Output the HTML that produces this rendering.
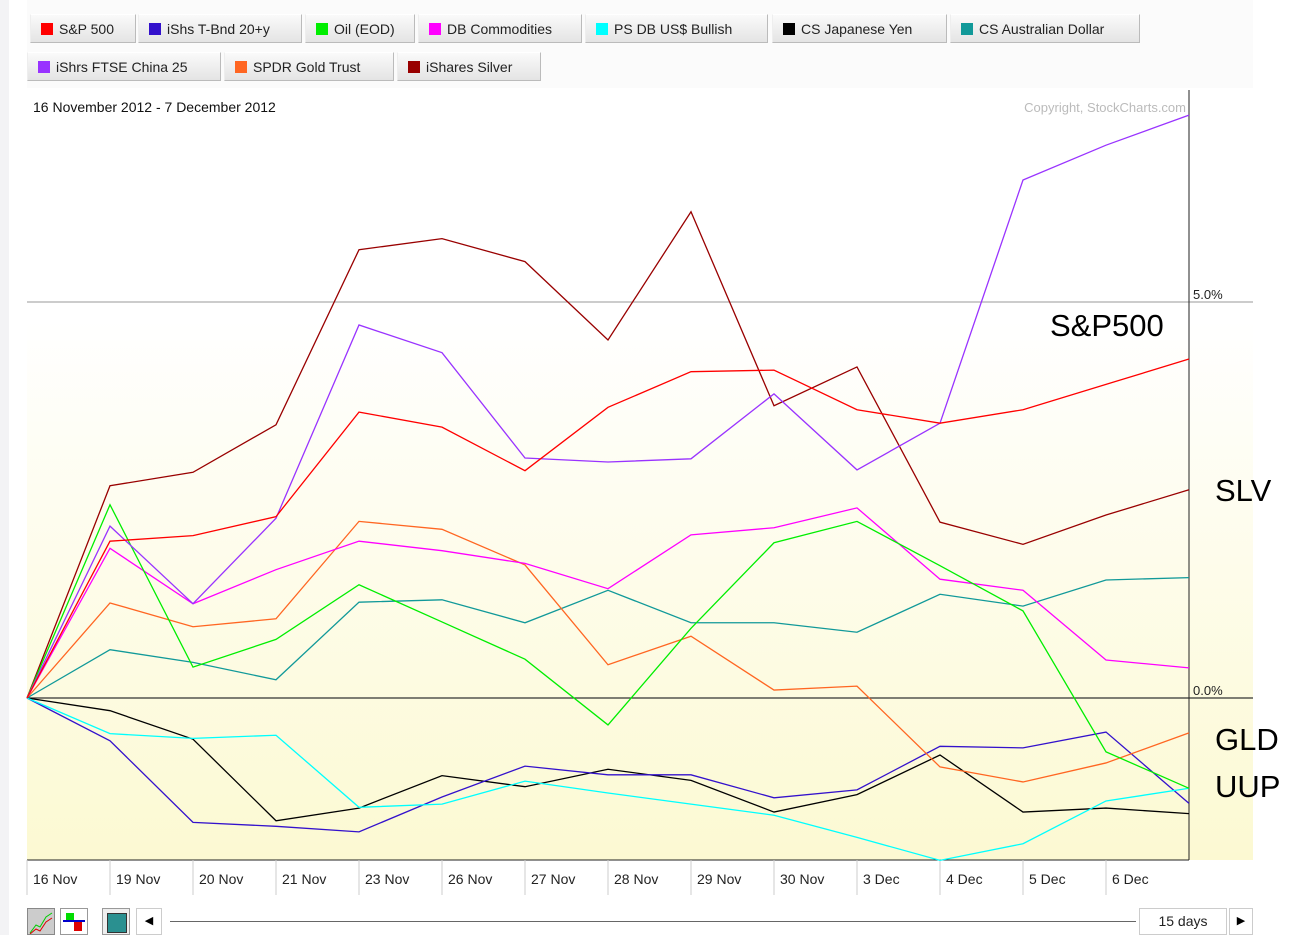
<!DOCTYPE html>
<html><head><meta charset="utf-8"><style>
body{margin:0;width:1307px;height:935px;overflow:hidden;background:#fff;font-family:"Liberation Sans",sans-serif;position:relative}
.lg{position:absolute;height:29px;background:linear-gradient(#fafafa,#e4e4e4);border:1px solid #bbb;border-top-color:#fff;border-left-color:#eee;font-size:14px;line-height:29px;padding:0 6px 0 28px;box-sizing:border-box;color:#222;white-space:nowrap;overflow:hidden}
.lg i{position:absolute;left:10px;top:8px;width:12px;height:12px}
.big{position:absolute;font-size:31px;color:#000}
</style></head><body>
<div style="position:absolute;left:0;top:0;width:9px;height:935px;background:#f3f3f5"></div>
<div style="position:absolute;left:27px;top:0;width:1226px;height:88px;background:#fbfbfb"></div>
<div id="legend"></div>
<svg id="chart" width="1307" height="935" style="position:absolute;left:0;top:0">
<defs><linearGradient id="bg" x1="0" y1="0" x2="0" y2="1"><stop offset="0" stop-color="#ffffff"/><stop offset="0.3" stop-color="#ffffff"/><stop offset="1" stop-color="#fcf9d2"/></linearGradient></defs>
</svg>
<div class="big" style="left:1050px;top:308px">S&amp;P500</div>
<div class="big" style="left:1215px;top:473px">SLV</div>
<div class="big" style="left:1215px;top:722px">GLD</div>
<div class="big" style="left:1215px;top:769px">UUP</div>
<div style="position:absolute;left:27px;top:905px;width:1226px;height:30px">
 <div style="position:absolute;left:0;top:3px;width:28px;height:27px;background:#ccc;border:1px solid #888;box-sizing:border-box"><svg width="26" height="25"><polyline points="2,24 8,16 12,18 18,8 24,4" fill="none" stroke="#0c0"/><polyline points="2,25 8,20 12,22 18,13 24,9" fill="none" stroke="#d00"/></svg></div>
 <div style="position:absolute;left:33px;top:3px;width:28px;height:27px;background:#fff;border:1px solid #999;box-sizing:border-box"><div style="position:absolute;left:5px;top:4px;width:8px;height:8px;background:#0d0"></div><div style="position:absolute;left:2px;top:11px;width:22px;height:2px;background:#00c"></div><div style="position:absolute;left:13px;top:13px;width:8px;height:9px;background:#d00"></div></div>
 <div style="position:absolute;left:75px;top:3px;width:28px;height:27px;background:#eee;border:1px solid #999;box-sizing:border-box"><div style="position:absolute;left:4px;top:4px;width:18px;height:18px;background:#2a9090;border:1px solid #333"></div></div>
 <div style="position:absolute;left:109px;top:3px;width:26px;height:27px;background:#fff;border:1px solid #ccc;box-sizing:border-box;font-size:11px;text-align:center;line-height:25px">◀</div>
 <div style="position:absolute;left:143px;top:16px;width:966px;height:1px;background:#666"></div>
 <div style="position:absolute;left:1112px;top:3px;width:88px;height:27px;border:1px solid #ccc;box-sizing:border-box;font-size:14px;text-align:center;line-height:25px;color:#222">15 days</div>
 <div style="position:absolute;left:1202px;top:3px;width:24px;height:27px;border:1px solid #ccc;box-sizing:border-box;font-size:11px;text-align:center;line-height:25px">▶</div>
</div>
<script>
const dates=["16 Nov","19 Nov","20 Nov","21 Nov","23 Nov","26 Nov","27 Nov","28 Nov","29 Nov","30 Nov","3 Dec","4 Dec","5 Dec","6 Dec"];
const seriesNames=["S&P 500","iShs T-Bnd 20+y","Oil (EOD)","DB Commodities","PS DB US$ Bullish","CS Japanese Yen","CS Australian Dollar","iShrs FTSE China 25","SPDR Gold Trust","iShares Silver"];
const seriesColors=["#ff0000","#3311cc","#00ee00","#ff00ff","#00ffff","#000000","#119999","#9933ff","#ff6622","#990000"];
const sp500=[0,1.98,2.05,2.29,3.61,3.42,2.87,3.67,4.12,4.14,3.64,3.47,3.64,3.96,4.28];
const tbond=[0,-0.54,-1.57,-1.62,-1.69,-1.25,-0.86,-0.97,-0.97,-1.26,-1.16,-0.61,-0.63,-0.43,-1.33];
const oil=[0,2.44,0.39,0.74,1.43,0.96,0.49,-0.34,0.88,1.96,2.23,1.67,1.10,-0.68,-1.14];
const dbc=[0,1.89,1.19,1.62,1.98,1.86,1.70,1.38,2.06,2.15,2.40,1.50,1.36,0.48,0.38];
const uup=[0,-0.45,-0.51,-0.47,-1.38,-1.34,-1.05,-1.20,-1.34,-1.48,-1.76,-2.05,-1.84,-1.30,-1.14];
const yen=[0,-0.16,-0.52,-1.55,-1.39,-0.98,-1.12,-0.90,-1.04,-1.44,-1.22,-0.72,-1.44,-1.39,-1.46];
const aud=[0,0.61,0.45,0.23,1.21,1.24,0.95,1.36,0.95,0.95,0.83,1.31,1.16,1.49,1.52];
const china=[0,2.17,1.19,2.27,4.71,4.36,3.03,2.98,3.02,3.84,2.88,3.47,6.54,6.98,7.36];
const gold=[0,1.20,0.90,1.00,2.23,2.13,1.68,0.42,0.78,0.10,0.15,-0.87,-1.06,-0.82,-0.44];
const silver=[0,2.68,2.85,3.45,5.66,5.80,5.51,4.52,6.14,3.69,4.18,2.22,1.94,2.31,2.63];
const yTicks=[0,5];
const yTickLabels=["0.0%","5.0%"];
const allSeries=[sp500,tbond,oil,dbc,uup,yen,aud,china,gold,silver];
const drawOrder=[9,6,5,1,4,8,3,2,7,0];

const NS="http://www.w3.org/2000/svg";
const svg=document.getElementById('chart');
const X0=27,X1=1189,Y0=90,Y1=860;
const xs=i=>X0+i*(X1-X0)/14;
const ys=v=>698-v*79.2;
function el(t,a,p){const e=document.createElementNS(NS,t);for(const k in a)e.setAttribute(k,a[k]);(p||svg).appendChild(e);return e;}
let r=el('rect',{x:X0,y:Y0,width:1226,height:Y1-Y0,fill:'url(#bg)'});


yTicks.forEach((v,i)=>{
 const l=el('line',{x1:X0,x2:1253,y1:ys(v),y2:ys(v),stroke:v===0?'#333':'#999','stroke-width':v===0?1.2:1});
 
 
 const t=el('text',{x:1193,y:ys(v)-3,'font-size':13,fill:'#222','font-family':'Liberation Sans'});
 t.textContent=yTickLabels[i];
 
 
});
let ax=el('line',{x1:X1,x2:X1,y1:Y0,y2:Y1,stroke:'#222'});


let bl=el('line',{x1:X0,x2:X1,y1:Y1,y2:Y1,stroke:'#222'});


dates.forEach((d,i)=>{
 const x=xs(i);
 const tk=el('line',{x1:x,x2:x,y1:Y1,y2:895,stroke:'#ccc'});
 
 
 const t=el('text',{x:x+6,y:884,'font-size':14,fill:'#222','font-family':'Liberation Sans'});
 t.textContent=d;
 
 
});
let tl=el('text',{x:33,y:112,'font-size':14,fill:'#111','font-family':'Liberation Sans'});
tl.textContent='16 November 2012 - 7 December 2012';


let cp=el('text',{x:1186,y:112,'font-size':13,fill:'#bbb','text-anchor':'end','font-family':'Liberation Sans'});
cp.textContent='Copyright, StockCharts.com';


drawOrder.forEach(s=>{
 const p=el('polyline',{points:allSeries[s].map((v,i)=>xs(i)+','+ys(v)).join(' '),fill:'none',stroke:seriesColors[s],'stroke-width':1.3});
 
 
});
const lgPos=[[30,14,106],[138,14,164],[305,14,110],[418,14,164],[585,14,183],[772,14,175],[950,14,190],[27,52,194],[224,52,170],[397,52,144]];
const lgEl=document.getElementById('legend');
seriesNames.forEach((n,i)=>{
 const d=document.createElement('div');
 d.className='lg';
 d.style.left=lgPos[i][0]+'px';d.style.top=lgPos[i][1]+'px';d.style.width=lgPos[i][2]+'px';
 d.innerHTML='<i style="background:'+seriesColors[i]+'"></i>'+n.replace('&','&amp;');
 
 
 lgEl.appendChild(d);
});
</script>
</body></html>
